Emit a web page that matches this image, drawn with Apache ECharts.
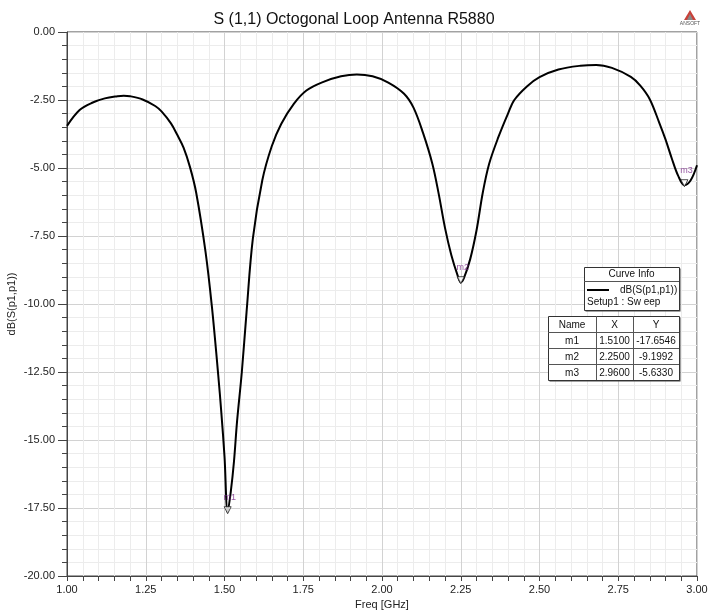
<!DOCTYPE html>
<html>
<head>
<meta charset="utf-8">
<script src="https://cdn.jsdelivr.net/npm/echarts@6/dist/echarts.min.js"></script>
<style>
  html, body { margin: 0; padding: 0; background: #fff; }
  #chart { width: 708px; height: 612px; }
</style>
</head>
<body>
<div id="chart"></div>
<script>
// values
var freq = [1.00, 1.04, 1.08, 1.12, 1.16, 1.18, 1.20, 1.24, 1.28, 1.30, 1.33, 1.35, 1.37, 1.39, 1.41,
  1.44, 1.46, 1.48, 1.49, 1.50, 1.51, 1.52, 1.53, 1.54, 1.555, 1.57, 1.59, 1.62, 1.65, 1.68,
  1.72, 1.76, 1.81, 1.87, 1.92, 1.97, 2.02, 2.07, 2.10, 2.13, 2.16, 2.18, 2.20, 2.22, 2.24,
  2.25, 2.26, 2.28, 2.30, 2.32, 2.34, 2.37, 2.40, 2.42, 2.46, 2.50, 2.56, 2.63, 2.68, 2.73,
  2.79, 2.82, 2.85, 2.88, 2.90, 2.92, 2.94, 2.96, 2.98, 3.00];
var s11 = [-3.45, -2.87, -2.60, -2.44, -2.36, -2.34, -2.36, -2.48, -2.72, -2.92, -3.36, -3.78, -4.25, -4.95, -5.90,
  -8.10, -10.1, -12.6, -14.0, -15.6, -17.65, -16.9, -15.8, -14.3, -12.5, -10.3, -7.6, -5.45, -4.2, -3.38,
  -2.64, -2.15, -1.85, -1.63, -1.56, -1.63, -1.86, -2.27, -2.78, -3.70, -4.85, -5.95, -7.2, -8.2, -8.95,
  -9.2, -9.05, -8.35, -7.3, -5.9, -4.85, -3.85, -3.0, -2.5, -2.0, -1.66, -1.38, -1.24, -1.21, -1.32,
  -1.65, -1.97, -2.47, -3.33, -3.95, -4.65, -5.28, -5.63, -5.45, -4.9];

var markerNames = ['m1', 'm2', 'm3'];
var markerX = [1.5100, 2.2500, 2.9600];
var markerY = [-17.6546, -9.1992, -5.6330];

var seriesName = 'dB(S(p1,p1))';
var setupName = 'Setup1 : Sw eep';

var chart = echarts.init(document.getElementById('chart'));
var font = 'Liberation Sans, Arial, sans-serif';

var lineData = freq.map(function (f, i) { return [f, s11[i]]; });
var markData = markerX.map(function (x, i) { return { value: [x, markerY[i]], name: markerNames[i] }; });

// box with a dark drop shadow, as in the HFSS report
function shadowBox(x, y, w, h) {
  return [
    { type: 'rect', z: 10, shape: { x: x + 1.5, y: y + 1.5, width: w, height: h }, style: { fill: '#444' } },
    { type: 'rect', z: 11, shape: { x: x + 0.5, y: y + 0.5, width: w, height: h }, style: { fill: '#fff', stroke: '#333', lineWidth: 1 } }
  ];
}
function hline(x1, x2, y) {
  return { type: 'line', z: 12, shape: { x1: x1, y1: y + 0.5, x2: x2, y2: y + 0.5 }, style: { stroke: '#555', lineWidth: 1 } };
}
function vline(x, y1, y2) {
  return { type: 'line', z: 12, shape: { x1: x + 0.5, y1: y1, x2: x + 0.5, y2: y2 }, style: { stroke: '#555', lineWidth: 1 } };
}
function label(txt, x, y, align) {
  return { type: 'text', z: 13, style: { text: txt, x: x, y: y, textAlign: align, textVerticalAlign: 'middle',
    font: '10px ' + font, fill: '#111' } };
}

// marker table (Name / X / Y)
var tableX = 548, tableY = 316, colW = [48, 37, 46], rowH = 16;
var tableW = colW[0] + colW[1] + colW[2];
var rowsTxt = [['Name', 'X', 'Y']].concat(markerNames.map(function (n, i) {
  return [n, markerX[i].toFixed(4), markerY[i].toFixed(4)];
}));
var tableEls = shadowBox(tableX, tableY, tableW, rowH * rowsTxt.length);
rowsTxt.forEach(function (row, r) {
  if (r > 0) tableEls.push(hline(tableX, tableX + tableW, tableY + r * rowH));
  var cx = tableX;
  row.forEach(function (txt, c) {
    tableEls.push(label(txt, cx + colW[c] / 2, tableY + r * rowH + rowH / 2 + 1, 'center'));
    cx += colW[c];
  });
});
tableEls.push(vline(tableX + colW[0], tableY, tableY + rowH * rowsTxt.length));
tableEls.push(vline(tableX + colW[0] + colW[1], tableY, tableY + rowH * rowsTxt.length));

var infoEls = shadowBox(584, 267, 95, 43).concat([
  hline(584, 679, 281),
  label('Curve Info', 631.5, 274.5, 'center'),
  label(setupName, 587, 302.5, 'left')
]);

var option = {
  backgroundColor: '#fff',
  animation: false,
  title: {
    text: 'S (1,1) Octogonal Loop Antenna R5880',
    left: 'center',
    top: 7,
    textStyle: { fontFamily: font, fontSize: 16, fontWeight: 'normal', color: '#111' }
  },
  legend: {
    data: [seriesName],
    left: 582,
    top: 280,
    z: 30,
    itemWidth: 22,
    itemHeight: 2,
    itemGap: 0,
    icon: 'rect',
    textStyle: { fontFamily: font, fontSize: 10, color: '#111', padding: [0, 0, 0, 6] }
  },
  grid: { left: 67, right: 11, top: 32, bottom: 36, show: true, borderColor: '#444', borderWidth: 1,
    outerBoundsMode: 'none', containLabel: false },
  xAxis: {
    type: 'value',
    min: 1, max: 3, interval: 0.25,
    name: 'Freq [GHz]',
    nameLocation: 'middle',
    nameGap: 23,
    nameMoveOverlap: false,
    nameTextStyle: { fontFamily: font, fontSize: 11, color: '#222' },
    axisLine: { onZero: false, lineStyle: { color: '#444' } },
    axisTick: { length: 5, lineStyle: { color: '#444' } },
    minorTick: { show: true, splitNumber: 5, length: 5, lineStyle: { color: '#444' } },
    axisLabel: { formatter: function (v) { return v.toFixed(2); }, fontFamily: font, fontSize: 11, color: '#222', margin: 8 },
    splitLine: { lineStyle: { color: '#d2d2d2' } },
    minorSplitLine: { show: true, lineStyle: { color: '#ececec' } }
  },
  yAxis: {
    type: 'value',
    min: -20, max: 0, interval: 2.5,
    name: 'dB(S(p1,p1))',
    nameLocation: 'middle',
    nameGap: 50,
    nameMoveOverlap: false,
    nameTextStyle: { fontFamily: font, fontSize: 11, color: '#222' },
    axisLine: { show: true, lineStyle: { color: '#444' } },
    axisTick: { length: 9, lineStyle: { color: '#444' } },
    minorTick: { show: true, splitNumber: 5, length: 5, lineStyle: { color: '#444' } },
    axisLabel: { formatter: function (v) { return v.toFixed(2); }, fontFamily: font, fontSize: 11, color: '#222', margin: 12 },
    splitLine: { lineStyle: { color: '#d2d2d2' } },
    minorSplitLine: { show: true, lineStyle: { color: '#ececec' } }
  },
  series: [
    {
      name: seriesName,
      type: 'line',
      data: lineData,
      showSymbol: false,
      smooth: 0.35,
      lineStyle: { color: '#000', width: 2 },
      itemStyle: { color: '#000' },
      z: 3
    },
    {
      name: 'markers',
      type: 'scatter',
      data: markData,
      symbol: 'triangle',
      symbolRotate: 180,
      symbolSize: 7,
      symbolOffset: [0, -2],
      itemStyle: { color: '#fff', borderColor: '#222', borderWidth: 1 },
      label: {
        show: true,
        position: 'top',
        distance: 4,
        offset: [2, 0],
        formatter: function (p) { return p.name; },
        fontFamily: font,
        fontSize: 9,
        color: '#7a2a8a'
      },
      z: 4
    }
  ],
  graphic: [
    { type: 'group', children: infoEls },
    { type: 'group', children: tableEls },
    // ansoft logo
    { type: 'polygon', shape: { points: [[690, 10], [684, 20], [696, 20]] }, style: { fill: '#c8423a' }, z: 10 },
    { type: 'polygon', shape: { points: [[690, 14], [687, 20], [693, 20]] }, style: { fill: '#888' }, z: 11 },
    { type: 'text', style: { text: 'ANSOFT', x: 690, y: 24, textAlign: 'center', textVerticalAlign: 'middle',
      font: '5px ' + font, fill: '#555' }, z: 10 }
  ]
};

chart.setOption(option);
</script>
</body>
</html>
